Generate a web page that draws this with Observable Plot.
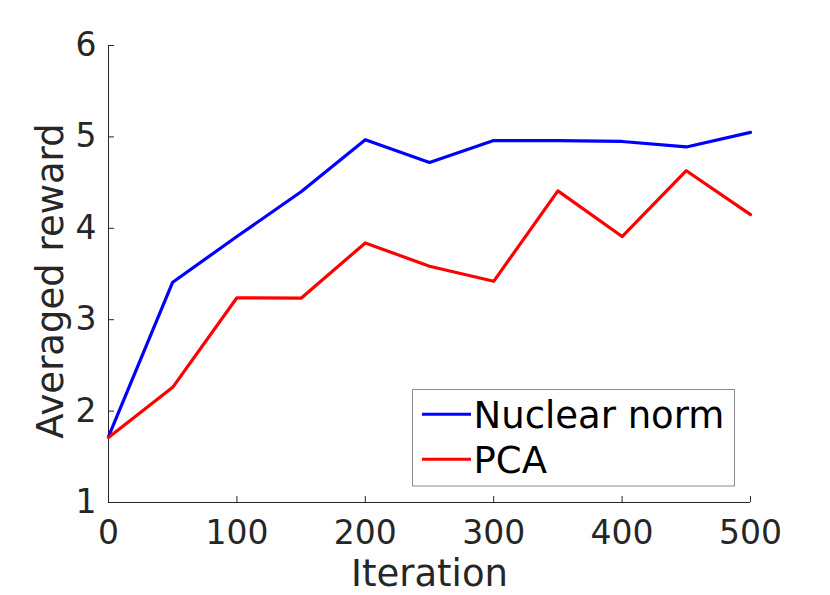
<!DOCTYPE html>
<html><head><meta charset="utf-8">
<script src="https://cdn.jsdelivr.net/npm/d3@7"></script>
<script src="https://cdn.jsdelivr.net/npm/@observablehq/plot@0.6"></script>
<style>
body{margin:0;background:#fff;}
#wrap{position:relative;width:830px;height:595px;overflow:hidden;}
#wrap svg{display:block;}
</style></head><body><div id="wrap"></div>
<script>
const iterations = [0, 50, 100, 150, 200, 250, 300, 350, 400, 450, 500];
const nuclearNorm = [1.72, 3.41, 3.91, 4.40, 4.97, 4.72, 4.96, 4.96, 4.95, 4.89, 5.05];
const pca = [1.71, 2.26, 3.24, 3.235, 3.84, 3.585, 3.42, 4.41, 3.91, 4.63, 4.15];
const seriesNames = ["Nuclear norm", "PCA"];
const seriesColors = ["#0000ff", "#ff0000"];
const xTicks = [0, 100, 200, 300, 400, 500];
const yTicks = [1, 2, 3, 4, 5, 6];
const xLabel = "Iteration";
const yLabel = "Averaged reward";

const seriesValues = [nuclearNorm, pca];
const rows = [];
seriesNames.forEach((name, i) => {
  iterations.forEach((it, j) => rows.push({series: name, iteration: it, value: seriesValues[i][j]}));
});

const ink = "#262626";
const plot = Plot.plot({
  width: 830, height: 595,
  marginLeft: 108, marginRight: 80, marginTop: 45, marginBottom: 93,
  style: {fontFamily: "DejaVu Sans", background: "#fff", overflow: "visible"},
  x: {domain: [0, 500]},
  y: {domain: [1, 6]},
  color: {domain: seriesNames, range: seriesColors},
  marks: [
    Plot.ruleX([0], {stroke: ink, strokeWidth: 1}),
    Plot.ruleY([1], {stroke: ink, strokeWidth: 1}),
    Plot.axisX(xTicks, {tickSize: 0, tickPadding: 17.6, fontSize: 33, fill: ink, label: null, tickFormat: d3.format("d")}),
    Plot.axisX(xTicks, {tickSize: -6, tickFormat: () => "", stroke: ink, label: null}),
    Plot.axisY(yTicks, {tickSize: 0, tickPadding: 12, fontSize: 33, fill: ink, label: null, tickFormat: d3.format("d")}),
    Plot.axisY(yTicks, {tickSize: -6, tickFormat: () => "", stroke: ink, label: null}),
    Plot.line(rows, {x: "iteration", y: "value", z: "series", stroke: "series", strokeWidth: 3.2}),
    Plot.text([xLabel], {text: d => d, frameAnchor: "bottom", textAnchor: "middle", lineAnchor: "top", dy: 57.4, fontSize: 37, fill: ink}),
    Plot.text([yLabel], {text: d => d, frameAnchor: "left", textAnchor: "middle", rotate: -90, lineAnchor: "top", dx: -71.3, dy: 7, fontSize: 37, fill: ink})
  ]
});
const wrap = document.getElementById("wrap");
wrap.appendChild(plot);

// Legend overlay
const leg = d3.select(wrap).append("svg")
  .attr("width", 830).attr("height", 595)
  .style("position", "absolute").style("left", "0px").style("top", "0px")
  .style("pointer-events", "none");
leg.append("rect").attr("x", 412.5).attr("y", 389.5).attr("width", 322).attr("height", 96.5)
  .attr("fill", "#fff").attr("stroke", "#8c8c8c").attr("stroke-width", 1);
seriesNames.forEach((name, i) => {
  const ly = 414.3 + i * 45;
  leg.append("line").attr("x1", 422).attr("x2", 471).attr("y1", ly).attr("y2", ly)
    .attr("stroke", seriesColors[i]).attr("stroke-width", 3);
  leg.append("text").attr("x", 473.5).attr("y", ly + 14)
    .attr("font-family", "DejaVu Sans").attr("font-size", 37).attr("fill", "#000")
    .text(name);
});
</script></body></html>
